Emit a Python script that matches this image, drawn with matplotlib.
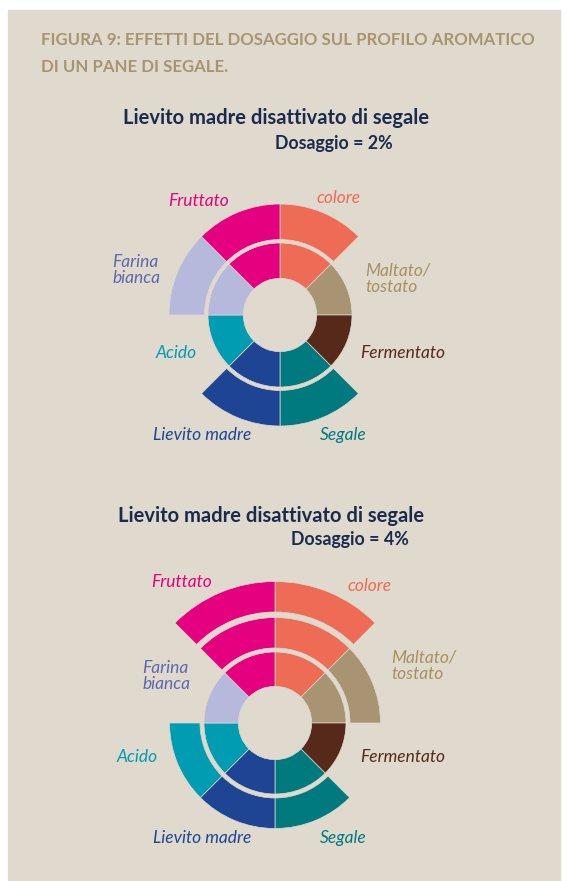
import numpy as np
import matplotlib
matplotlib.use('Agg')
import matplotlib.pyplot as plt
from matplotlib.patches import Rectangle

# aroma categories, clockwise from 12 o'clock
categories = ['colore', 'Maltato/\ntostato', 'Fermentato', 'Segale',
              'Lievito madre', 'Acido', 'Farina\nbianca', 'Fruttato']
# number of rings filled per category
levels_2pct = [2, 1, 1, 2, 2, 1, 2, 2]
levels_4pct = [3, 2, 1, 2, 2, 2, 1, 3]

colors = ['#EE6B55', '#A89473', '#56291A', '#007A7E',
          '#1E4594', '#009CB2', '#B6B8DC', '#E4007F']
label_colors = ['#EE6B55', '#A8915F', '#56291A', '#007A7E',
                '#1E4594', '#009CB2', '#5F66AE', '#E4007F']

bg = '#DFD9CE'
navy = '#1B2B4D'
W, H = 567, 881

plt.rcParams['font.family'] = ['Lato', 'DejaVu Sans']

fig = plt.figure(figsize=(W / 100, H / 100), dpi=100)
fig.patch.set_facecolor('white')
fig.patches.append(Rectangle((8 / W, 0), (560 - 8) / W, (H - 10) / H,
                             transform=fig.transFigure, color=bg, zorder=-5))


def px(x, y):
    return x / W, 1 - y / H


def draw_wheel(cx, cy, levels, rings):
    R = 150
    ax = fig.add_axes([(cx - R) / W, (H - cy - R) / H, 2 * R / W, 2 * R / H],
                      projection='polar')
    ax.set_theta_zero_location('N')
    ax.set_theta_direction(-1)
    ax.set_ylim(0, R)
    ax.axis('off')
    ax.patch.set_alpha(0)
    step = 2 * np.pi / len(levels)
    for i, n in enumerate(levels):
        for k in range(n):
            r0, r1 = rings[k]
            ax.bar(i * step, r1 - r0, width=step, bottom=r0, align='edge',
                   color=colors[i], edgecolor=bg, linewidth=0.5)


def draw_labels(positions):
    for lab, c, (x, y, ha) in zip(categories, label_colors, positions):
        fig.text(*px(x, y), lab, color=c, fontsize=12.5, style='italic',
                 ha=ha, va='center', linespacing=1.05)


# caption
fig.text(*px(41, 40), 'FIGURA 9: EFFETTI DEL DOSAGGIO SUL PROFILO AROMATICO',
         color='#A8946F', fontsize=12.1, fontweight='bold', va='center')
fig.text(*px(41, 67), 'DI UN PANE DI SEGALE.',
         color='#A8946F', fontsize=12.1, fontweight='bold', va='center')

# chart 1
fig.text(*px(276, 118), 'Lievito madre disattivato di segale', color=navy,
         fontsize=14.5, fontweight='bold', ha='center', va='center')
fig.text(*px(334, 143), 'Dosaggio = 2%', color=navy,
         fontsize=12.8, fontweight='bold', ha='center', va='center')
draw_wheel(280, 315, levels_2pct, [(36.7, 72), (75.5, 111)])
draw_labels([(339, 198, 'center'), (365, 279, 'left'), (360, 353, 'left'),
             (343, 435, 'center'), (202, 435, 'center'), (176, 353, 'center'),
             (112, 270, 'left'), (199, 201, 'center')])

# chart 2
fig.text(*px(271, 516), 'Lievito madre disattivato di segale', color=navy,
         fontsize=14.5, fontweight='bold', ha='center', va='center')
fig.text(*px(350, 540), 'Dosaggio = 4%', color=navy,
         fontsize=12.8, fontweight='bold', ha='center', va='center')
draw_wheel(275, 723, levels_4pct, [(36.7, 71), (75, 105.5), (111, 141.5)])
draw_labels([(370, 586, 'center'), (391, 666, 'left'), (360, 757, 'left'),
             (343, 838, 'center'), (202, 838, 'center'), (137, 757, 'center'),
             (142, 676, 'left'), (182, 582, 'center')])

fig.savefig('out.png', dpi=100, facecolor=fig.get_facecolor())
